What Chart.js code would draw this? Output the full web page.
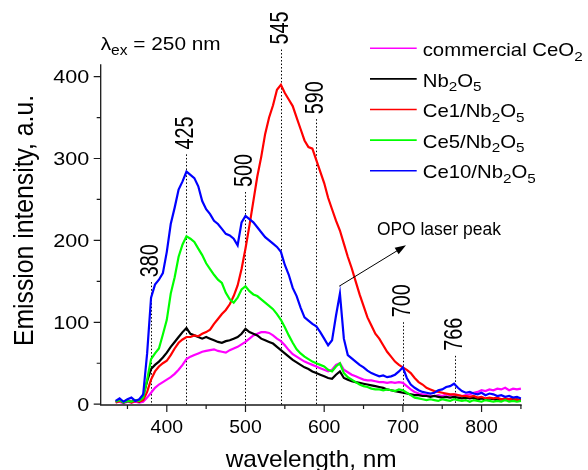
<!DOCTYPE html>
<html>
<head>
<meta charset="utf-8">
<script src="https://cdn.jsdelivr.net/npm/chart.js@4.4.1/dist/chart.umd.min.js"></script>
<style>
  html, body { margin: 0; padding: 0; background: #fff; }
</style>
</head>
<body>
<canvas id="spectra" width="588" height="470"></canvas>
<script>
  // wavelength grid (nm), 5 nm apart
  const wavelengths = [
    335, 340, 345, 350, 355, 360, 365, 370, 375, 380,
    385, 390, 395, 400, 405, 410, 415, 420, 425, 430,
    435, 440, 445, 450, 455, 460, 465, 470, 475, 480,
    485, 490, 495, 500, 505, 510, 515, 520, 525, 530,
    535, 540, 545, 550, 555, 560, 565, 570, 575, 580,
    585, 590, 595, 600, 605, 610, 615, 620, 625, 630,
    635, 640, 645, 650, 655, 660, 665, 670, 675, 680,
    685, 690, 695, 700, 705, 710, 715, 720, 725, 730,
    735, 740, 745, 750, 755, 760, 765, 770, 775, 780,
    785, 790, 795, 800, 805, 810, 815, 820, 825, 830,
    835, 840, 845, 850
  ];

  // emission intensity, a.u.
  const ceo2 = [
    2, 3, 1, 3, 2, 3, 2, 3, 8, 14,
    20, 24, 27, 30, 33, 37, 42, 48, 55, 58,
    60, 62, 64, 65, 66, 67, 65, 64, 63, 66,
    68, 70, 73, 76, 80, 84, 86, 88, 88, 87,
    84, 80, 77, 72, 66, 61, 58, 55, 52, 50,
    48, 46, 44, 42, 40, 42, 48, 50, 42, 39,
    36, 34, 32, 30, 29, 29, 28, 27, 27, 26,
    27, 26, 27, 26, 22, 18, 15, 13, 12, 11,
    10, 10, 11, 10, 12, 11, 12, 11, 10, 11,
    12, 14, 15, 17, 16, 18, 17, 19, 18, 20,
    17, 19, 18, 19
  ];
  const nb2o5 = [
    3, 5, 2, 4, 3, 5, 3, 10, 28, 43,
    48, 52, 57, 63, 70, 76, 82, 88, 93, 86,
    84, 82, 80, 82, 80, 78, 76, 75, 77, 78,
    80, 82, 86, 92, 88, 86, 84, 80, 78, 76,
    74, 70, 66, 62, 58, 54, 51, 48, 45, 43,
    40, 38, 36, 34, 32, 31, 36, 40, 32, 30,
    28, 27, 26, 25, 24, 23, 22, 21, 20, 18,
    17, 16, 15, 14, 13, 12, 11, 11, 10, 10,
    9, 10, 9, 8, 9, 8, 9, 8, 7, 8,
    7, 8, 6, 7, 6, 7, 6, 5, 6, 5,
    6, 5, 6, 5
  ];
  const ce1 = [
    2, 4, 3, 5, 2, 4, 3, 5, 15, 30,
    40, 46, 50, 53, 60, 68, 75, 79, 82, 82,
    84, 83, 86, 88, 91, 98, 104, 110, 115, 122,
    132, 145, 165, 190, 218, 248, 278, 302, 330, 350,
    365, 384, 390, 380, 372, 364, 350, 336, 322, 314,
    312, 298, 284, 270, 252, 238, 224, 212, 196, 180,
    166, 150, 134, 120, 106, 96, 86, 80, 72, 64,
    58, 52, 48, 45, 42, 38, 32, 27, 24, 20,
    18, 16, 15, 14, 13, 12, 12, 11, 10, 10,
    9, 10, 8, 9, 7, 8, 7, 8, 6, 7,
    6, 7, 5, 6
  ];
  const ce5 = [
    3, 5, 2, 4, 3, 5, 4, 8, 30, 55,
    62, 68, 85, 103, 135, 155, 180, 195, 205, 202,
    198, 190, 182, 172, 165, 158, 152, 148, 136, 128,
    124, 130, 140, 144, 138, 134, 132, 128, 124, 120,
    116, 110, 103, 94, 84, 75, 67, 62, 58, 55,
    52, 50, 48, 46, 42, 40, 46, 50, 38, 33,
    30, 27, 24, 22, 21, 19, 18, 18, 17, 18,
    17, 16, 18, 17, 14, 11, 8, 7, 6, 5,
    6, 5, 4, 6, 5, 4, 6, 5, 4, 5,
    3, 5, 4, 3, 5, 4, 3, 4, 3, 5,
    3, 4, 3, 4
  ];
  const ce10 = [
    4, 7, 3, 6, 8, 4, 6, 12, 62, 130,
    146, 152, 160, 186, 220, 240, 262, 272, 284, 280,
    276, 266, 248, 238, 232, 224, 220, 214, 208, 206,
    202, 194, 222, 230, 226, 222, 216, 210, 204, 200,
    196, 192, 186, 170, 158, 142, 132, 118, 106, 102,
    98, 95, 88, 80, 72, 78, 108, 135, 80, 60,
    56, 52, 48, 45, 41, 38, 36, 34, 35, 33,
    34, 36, 40, 45, 32, 24, 20, 17, 15, 14,
    13, 14, 17, 18, 21, 22, 25, 20, 16, 14,
    15, 13, 12, 14, 11, 13, 12, 10, 11, 9,
    10, 8, 9, 7
  ];

  const seriesNames = ['commercial CeO₂', 'Nb₂O₅', 'Ce1/Nb₂O₅', 'Ce5/Nb₂O₅', 'Ce10/Nb₂O₅'];
  const seriesColors = ['#ff00ff', '#000000', '#ff0000', '#00ff00', '#0000ff'];
  const seriesValues = [ceo2, nb2o5, ce1, ce5, ce10];
  const drawOrder = [5, 4, 3, 2, 1];   // blue on top, magenta at the bottom

  // legend text with subscripts: [text, isSubscript]
  const legendParts = [
    [['commercial CeO', 0], ['2', 1]],
    [['Nb', 0], ['2', 1], ['O', 0], ['5', 1]],
    [['Ce1/Nb', 0], ['2', 1], ['O', 0], ['5', 1]],
    [['Ce5/Nb', 0], ['2', 1], ['O', 0], ['5', 1]],
    [['Ce10/Nb', 0], ['2', 1], ['O', 0], ['5', 1]]
  ];

  // axis ticks
  const xMajor = [400, 500, 600, 700, 800];
  const xMinor = [350, 450, 550, 650, 750, 850];
  const yMajor = [0, 100, 200, 300, 400];
  const yMinor = [50, 150, 250, 350];

  // marked peaks (nm) and the intensity where each dotted line stops
  const peaks = [380, 425, 500, 545, 590, 700, 766];
  const peakTops = [149, 305, 259, 433, 348, 100, 59];

  // annotation anchors in data units [nm, a.u.]
  const exciteAt = [316, 432];
  const opoTextAt = [667, 206];
  const opoArrowFrom = [619, 144];
  const opoArrowTo = [704, 194];

  const FONT = '"Liberation Sans", Arial, Helvetica, sans-serif';

  // draws text parts at the local origin; sx stretches along the text, sy across it
  function drawRich(ctx, parts, size, o) {
    o = o || {};
    const subSize = size * 0.75, drop = size * 0.26;
    let natural = 0;
    const ws = parts.map(p => {
      ctx.font = (p[1] ? subSize : size) + 'px ' + FONT;
      const w = ctx.measureText(p[0]).width;
      natural += w;
      return w;
    });
    const sx = o.width ? o.width / natural : (o.sx || 1);
    let start = 0;
    if (o.align === 'center') start = -natural / 2;
    else if (o.align === 'right') start = -natural;
    ctx.save();
    ctx.scale(sx, o.sy || 1);
    ctx.textAlign = 'left';
    ctx.textBaseline = o.baseline || 'alphabetic';
    ctx.fillStyle = o.color || '#000';
    let cx = start;
    parts.forEach((p, i) => {
      ctx.font = (p[1] ? subSize : size) + 'px ' + FONT;
      ctx.fillText(p[0], cx, p[1] ? drop : 0);
      cx += ws[i];
    });
    ctx.restore();
  }

  const peakMarks = {
    id: 'peakMarks',
    beforeDatasetsDraw(chart) {
      const ctx = chart.ctx, ax = chart.scales.x, ay = chart.scales.y;
      const bottom = chart.chartArea.bottom;
      ctx.save();
      ctx.strokeStyle = '#000';
      ctx.lineWidth = 1;
      ctx.setLineDash([1.5, 2]);
      peaks.forEach((p, i) => {
        const x = Math.round(ax.getPixelForValue(p)) + 0.5;
        const top = ay.getPixelForValue(peakTops[i]);
        ctx.beginPath();
        ctx.moveTo(x, top);
        ctx.lineTo(x, bottom);
        ctx.stroke();
      });
      ctx.restore();
    },
    afterDraw(chart) {
      const ctx = chart.ctx, ax = chart.scales.x, ay = chart.scales.y, area = chart.chartArea;

      // axes
      ctx.save();
      ctx.strokeStyle = '#1a1a1a';
      ctx.lineWidth = 1.3;
      ctx.beginPath();
      ctx.moveTo(area.left, area.top);
      ctx.lineTo(area.left, area.bottom);
      ctx.lineTo(area.right, area.bottom);
      ctx.stroke();
      ctx.lineWidth = 1.2;
      ctx.beginPath();
      yMajor.forEach(v => { const y = ay.getPixelForValue(v); ctx.moveTo(area.left, y); ctx.lineTo(area.left - 7, y); });
      yMinor.forEach(v => { const y = ay.getPixelForValue(v); ctx.moveTo(area.left, y); ctx.lineTo(area.left - 4, y); });
      xMajor.forEach(v => { const x = ax.getPixelForValue(v); ctx.moveTo(x, area.bottom); ctx.lineTo(x, area.bottom + 7); });
      xMinor.forEach(v => { const x = ax.getPixelForValue(v); ctx.moveTo(x, area.bottom); ctx.lineTo(x, area.bottom + 4); });
      ctx.stroke();
      ctx.restore();

      // tick labels
      yMajor.forEach(v => {
        ctx.save();
        ctx.translate(area.left - 11.5, ay.getPixelForValue(v) + 6.5);
        drawRich(ctx, [[String(v), 0]], 17.7, { align: 'right', sx: 1.22 });
        ctx.restore();
      });
      xMajor.forEach(v => {
        ctx.save();
        ctx.translate(ax.getPixelForValue(v), area.bottom + 28.3);
        drawRich(ctx, [[String(v), 0]], 17.7, { align: 'center', sx: 1.1 });
        ctx.restore();
      });

      // axis titles
      ctx.save();
      ctx.translate(32.5, 220.5);
      ctx.rotate(-Math.PI / 2);
      drawRich(ctx, [['Emission intensity, a.u.', 0]], 24, { align: 'center', width: 251, sy: 1.15 });
      ctx.restore();
      ctx.save();
      ctx.translate((area.left + area.right) / 2, 466.5);
      drawRich(ctx, [['wavelength, nm', 0]], 24, { align: 'center', width: 171 });
      ctx.restore();

      // peak labels
      peaks.forEach((p, i) => {
        ctx.save();
        ctx.translate(ax.getPixelForValue(p), ay.getPixelForValue(peakTops[i]) - 21.5);
        ctx.rotate(-Math.PI / 2);
        drawRich(ctx, [[String(p), 0]], 19.8, { align: 'center', baseline: 'middle', sy: 1.27 });
        ctx.restore();
      });

      // excitation wavelength
      ctx.save();
      ctx.translate(ax.getPixelForValue(exciteAt[0]), ay.getPixelForValue(exciteAt[1]));
      drawRich(ctx, [['λ', 0], ['ex', 1], [' = 250 nm', 0]], 18.5, { width: 120 });
      ctx.restore();

      // OPO laser peak note with arrow
      ctx.save();
      ctx.translate(ax.getPixelForValue(opoTextAt[0]), ay.getPixelForValue(opoTextAt[1]));
      drawRich(ctx, [['OPO laser peak', 0]], 17.5, { width: 124 });
      ctx.restore();
      const x1 = ax.getPixelForValue(opoArrowFrom[0]), y1 = ay.getPixelForValue(opoArrowFrom[1]);
      const x2 = ax.getPixelForValue(opoArrowTo[0]), y2 = ay.getPixelForValue(opoArrowTo[1]);
      const ang = Math.atan2(y2 - y1, x2 - x1);
      ctx.save();
      ctx.strokeStyle = '#000';
      ctx.fillStyle = '#000';
      ctx.lineWidth = 1;
      ctx.beginPath();
      ctx.moveTo(x1, y1);
      ctx.lineTo(x2 - 8 * Math.cos(ang), y2 - 8 * Math.sin(ang));
      ctx.stroke();
      ctx.translate(x2, y2);
      ctx.rotate(ang);
      ctx.beginPath();
      ctx.moveTo(0, 0);
      ctx.lineTo(-11, -3.8);
      ctx.lineTo(-11, 3.8);
      ctx.closePath();
      ctx.fill();
      ctx.restore();

      // legend
      legendParts.forEach((parts, i) => {
        const y = 48.3 + i * 30.6;
        ctx.save();
        ctx.strokeStyle = seriesColors[i];
        ctx.lineWidth = 1.6;
        ctx.beginPath();
        ctx.moveTo(370, y);
        ctx.lineTo(416.7, y);
        ctx.stroke();
        ctx.translate(422.7, y + 7.7);
        drawRich(ctx, parts, 17.7, { sx: 1.15 });
        ctx.restore();
      });
    }
  };

  const datasets = seriesValues.map((vals, i) => ({
    label: seriesNames[i],
    data: wavelengths.map((w, j) => ({ x: w, y: vals[j] })),
    borderColor: seriesColors[i],
    backgroundColor: seriesColors[i],
    borderWidth: 2.2,
    pointRadius: 0,
    tension: 0,
    fill: false,
    order: drawOrder[i]
  }));

  new Chart(document.getElementById('spectra'), {
    type: 'line',
    data: { datasets: datasets },
    options: {
      responsive: false,
      devicePixelRatio: 1,
      animation: false,
      layout: { padding: { left: 100.7, right: 66.3, top: 64.3, bottom: 65 } },
      scales: {
        x: { type: 'linear', min: 316, max: 851, display: false },
        y: { type: 'linear', min: -1, max: 415, display: false }
      },
      plugins: {
        legend: { display: false },
        tooltip: { enabled: false }
      }
    },
    plugins: [peakMarks]
  });
</script>
</body>
</html>
